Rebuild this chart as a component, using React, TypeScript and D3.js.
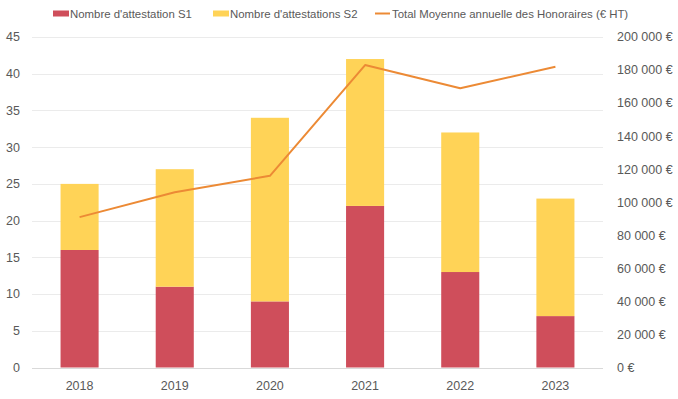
import React, { useEffect, useRef } from 'react';
import * as d3 from 'd3';

const years = ['2018', '2019', '2020', '2021', '2022', '2023'];
const attestS1 = [16, 11, 9, 22, 13, 7];
const attestS2 = [9, 16, 25, 20, 19, 16];
const honoraires = [91000, 106000, 116000, 183000, 169000, 182000];
const leftTicks = [0, 5, 10, 15, 20, 25, 30, 35, 40, 45];
const rightTicks = [0, 20000, 40000, 60000, 80000, 100000, 120000, 140000, 160000, 180000, 200000];
const legendLabels = ["Nombre d'attestation S1", "Nombre d'attestations S2", 'Total Moyenne annuelle des Honoraires (€ HT)'];

const RED = '#CF4E5B';
const YELLOW = '#FFD357';
const ORANGE = '#EC8A35';
const TEXT = '#595959';
const FONT = 'Liberation Sans, Arial, sans-serif';

export default function App() {
  const ref = useRef<SVGSVGElement>(null);

  useEffect(() => {
    const svg = d3.select(ref.current);
    svg.selectAll('*').remove();

    const left = 32, right = 603, top = 37, bottom = 367.5;

    const x = d3.scaleBand().domain(years).range([left, right]).paddingInner(0.6).paddingOuter(0.3);
    const yL = d3.scaleLinear().domain([0, 45]).range([bottom, top]);
    const yR = d3.scaleLinear().domain([0, 200000]).range([bottom, top]);

    const fr = d3.formatLocale({ decimal: ',', thousands: ' ', grouping: [3], currency: ['', ' €'] });
    const fmt = fr.format(',.0f');

    // gridlines
    svg.append('g')
      .selectAll('line')
      .data(leftTicks)
      .enter().append('line')
      .attr('x1', left).attr('x2', right)
      .attr('y1', d => Math.round(yL(d)) + 0.5).attr('y2', d => Math.round(yL(d)) + 0.5)
      .attr('stroke', d => d === 0 ? '#D9D9D9' : '#EBEBEB')
      .attr('stroke-width', 1);

    // left labels
    svg.append('g')
      .selectAll('text')
      .data(leftTicks)
      .enter().append('text')
      .attr('x', 20).attr('y', d => yL(d))
      .attr('dy', '0.35em')
      .attr('text-anchor', 'end')
      .attr('font-family', FONT).attr('font-size', 12.5).attr('fill', TEXT)
      .text(d => d);

    // right labels
    svg.append('g')
      .selectAll('text')
      .data(rightTicks)
      .enter().append('text')
      .attr('x', 617).attr('y', d => yR(d))
      .attr('dy', '0.35em')
      .attr('font-family', FONT).attr('font-size', 12.5).attr('fill', TEXT)
      .text(d => fmt(d) + ' €');

    // x labels
    svg.append('g')
      .selectAll('text')
      .data(years)
      .enter().append('text')
      .attr('x', d => (x(d) as number) + x.bandwidth() / 2).attr('y', 386)
      .attr('dy', '0.35em')
      .attr('text-anchor', 'middle')
      .attr('font-family', FONT).attr('font-size', 12.5).attr('fill', TEXT)
      .text(d => d);

    // stacked bars
    const g = svg.append('g');
    g.selectAll('.s1')
      .data(years)
      .enter().append('rect')
      .attr('x', d => x(d) as number)
      .attr('width', x.bandwidth())
      .attr('y', (d, i) => yL(attestS1[i]))
      .attr('height', (d, i) => yL(0) - yL(attestS1[i]))
      .attr('fill', RED);
    g.selectAll('.s2')
      .data(years)
      .enter().append('rect')
      .attr('x', d => x(d) as number)
      .attr('width', x.bandwidth())
      .attr('y', (d, i) => yL(attestS1[i] + attestS2[i]))
      .attr('height', (d, i) => yL(attestS1[i]) - yL(attestS1[i] + attestS2[i]))
      .attr('fill', YELLOW);

    // line
    const line = d3.line<number>()
      .x((d, i) => (x(years[i]) as number) + x.bandwidth() / 2)
      .y(d => yR(d));
    svg.append('path')
      .datum(honoraires)
      .attr('fill', 'none')
      .attr('stroke', ORANGE)
      .attr('stroke-width', 2)
      .attr('stroke-linejoin', 'round')
      .attr('d', line);

    // legend
    const lg = svg.append('g').attr('font-family', FONT).attr('font-size', 11.4).attr('fill', TEXT);
    const legendX = [53, 213, 375];
    lg.append('rect').attr('x', legendX[0]).attr('y', 10.5).attr('width', 16).attr('height', 6).attr('fill', RED);
    lg.append('rect').attr('x', legendX[1]).attr('y', 10.5).attr('width', 16).attr('height', 6).attr('fill', YELLOW);
    lg.append('line').attr('x1', legendX[2]).attr('x2', legendX[2] + 15).attr('y1', 13.5).attr('y2', 13.5)
      .attr('stroke', ORANGE).attr('stroke-width', 2);
    legendLabels.forEach((t, i) => {
      lg.append('text')
        .attr('x', legendX[i] + (i === 2 ? 17 : 17)).attr('y', 14).attr('dy', '0.35em')
        .text(t);
    });
  }, []);

  return (
    <div style={{ position: 'absolute', left: 0, top: 0 }}>
      <svg ref={ref} width={678} height={399} style={{ display: 'block', background: '#fff' }} />
    </div>
  );
}
